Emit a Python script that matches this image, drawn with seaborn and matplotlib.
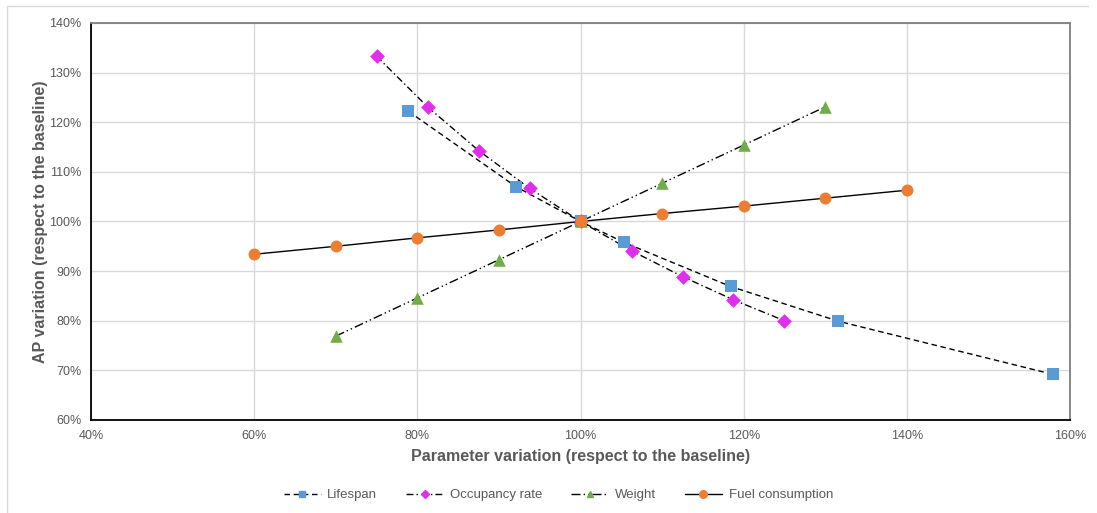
import matplotlib
matplotlib.use("Agg")
import matplotlib.pyplot as plt
from matplotlib.lines import Line2D
from matplotlib.ticker import FuncFormatter, MultipleLocator
import seaborn as sns
import pandas as pd

# Sensitivity data: parameter variation (%) vs AP variation (%), both relative to baseline
lifespan_x = [78.9, 92.1, 100.0, 105.3, 118.4, 131.6, 157.9]
lifespan_y = [122.2, 107.0, 100.0, 95.8, 86.9, 79.9, 69.2]

occupancy_x = [75.0, 81.25, 87.5, 93.75, 100.0, 106.25, 112.5, 118.75, 125.0]
occupancy_y = [133.3, 123.1, 114.3, 106.7, 100.0, 94.1, 88.9, 84.2, 80.0]

weight_x = [70, 80, 90, 100, 110, 120, 130]
weight_y = [76.9, 84.6, 92.3, 100.0, 107.7, 115.4, 123.1]

fuel_x = [60, 70, 80, 90, 100, 110, 120, 130, 140]
fuel_y = [93.4, 95.0, 96.7, 98.3, 100.0, 101.6, 103.1, 104.7, 106.3]

series_names = ["Lifespan", "Occupancy rate", "Weight", "Fuel consumption"]

sns.set_theme(style="white")
plt.rcParams["font.family"] = ["Liberation Sans", "DejaVu Sans"]

TEXT = "#595959"
GRID = "#d9d9d9"

styles = {
    "Lifespan": dict(color="#5b9bd5", marker="s", s=82, ls=(0, (4, 2.6)), lm=5.0),
    "Occupancy rate": dict(color="#e22cee", marker="D", s=56, ls=(0, (5, 2.2, 1, 2.2)), lm=4.0),
    "Weight": dict(color="#70ad47", marker="^", s=82, ls=(0, (6.5, 2.2, 1, 2.2, 1, 2.2)), lm=5.0),
    "Fuel consumption": dict(color="#ed7d31", marker="o", s=74, ls="-", lm=5.5),
}

frames = []
for name, xs, ys in zip(series_names,
                        [lifespan_x, occupancy_x, weight_x, fuel_x],
                        [lifespan_y, occupancy_y, weight_y, fuel_y]):
    frames.append(pd.DataFrame({"param": xs, "ap": ys, "series": name}))
df = pd.concat(frames, ignore_index=True)

fig = plt.figure(figsize=(10.97, 5.13), dpi=100)
ax = fig.add_axes([0.083, 0.1813, 0.8924, 0.7739])

# connecting lines first, markers on top
for name in series_names:
    sub = df[df["series"] == name]
    st = styles[name]
    sns.lineplot(data=sub, x="param", y="ap", ax=ax, color="black",
                 linewidth=1.0, linestyle=st["ls"], sort=False, zorder=3)
for name in series_names:
    sub = df[df["series"] == name]
    st = styles[name]
    sns.scatterplot(data=sub, x="param", y="ap", ax=ax, color=st["color"],
                    marker=st["marker"], s=st["s"], linewidth=0, zorder=4)

ax.set_xlim(40, 160)
ax.set_ylim(60, 140)
ax.xaxis.set_major_locator(MultipleLocator(20))
ax.yaxis.set_major_locator(MultipleLocator(10))
pct = FuncFormatter(lambda v, p: f"{v:.0f}%")
ax.xaxis.set_major_formatter(pct)
ax.yaxis.set_major_formatter(pct)

ax.grid(True, color=GRID, linewidth=1.0, zorder=0)
ax.set_axisbelow(True)

ax.tick_params(axis="both", direction="in", length=4, width=1.0, color="black",
               labelsize=9, labelcolor=TEXT)
ax.tick_params(axis="x", pad=7)
ax.tick_params(axis="y", pad=7)

for side in ["left", "bottom"]:
    ax.spines[side].set_color("black")
    ax.spines[side].set_linewidth(1.3)
for side in ["top", "right"]:
    ax.spines[side].set_color("#7f7f7f")
    ax.spines[side].set_linewidth(1.3)

ax.set_xlabel("Parameter variation (respect to the baseline)", fontsize=11.5,
              fontweight="bold", color=TEXT, labelpad=5)
ax.set_ylabel("AP variation (respect to the baseline)", fontsize=11.5,
              fontweight="bold", color=TEXT, labelpad=1)

handles = []
for name in series_names:
    st = styles[name]
    handles.append(Line2D([0], [0], color="black", linewidth=1.0, linestyle=st["ls"],
                          marker=st["marker"], markersize=st["lm"],
                          markerfacecolor=st["color"], markeredgecolor=st["color"]))
fig.legend(handles, series_names, loc="center", bbox_to_anchor=(0.509, 0.035),
           ncol=4, frameon=False, fontsize=9.5, labelcolor=TEXT,
           handlelength=2.8, columnspacing=2.2, handletextpad=0.5)

# chart-area border (left and top edges)
fig.add_artist(Line2D([0.0064, 0.0064], [0.0, 0.988], transform=fig.transFigure,
                      color=GRID, linewidth=1.0))
fig.add_artist(Line2D([0.0064, 0.992], [0.988, 0.988], transform=fig.transFigure,
                      color=GRID, linewidth=1.0))

fig.savefig("out.png", dpi=100)
